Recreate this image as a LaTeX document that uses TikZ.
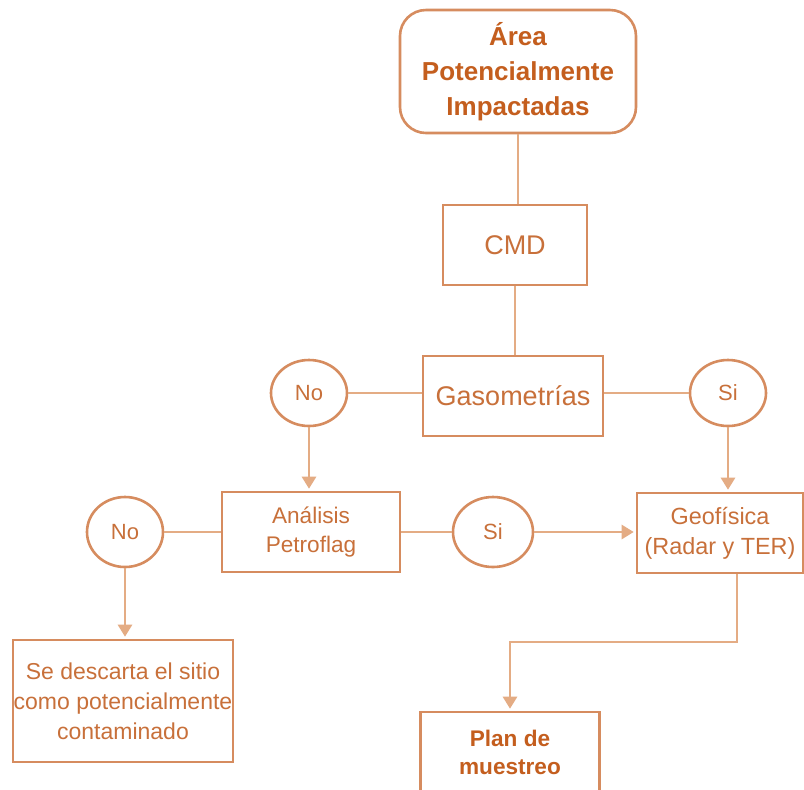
\documentclass[tikz,border=0pt]{standalone}
\usepackage{fontspec}
\setmainfont{Liberation Sans}
\usepackage{tikz}
\usetikzlibrary{arrows.meta}
\usetikzlibrary{positioning}
\usetikzlibrary{shapes.geometric}

\definecolor{boxline}{RGB}{214,140,95}
\definecolor{connline}{RGB}{228,172,132}
\definecolor{headtext}{RGB}{196,94,30}
\definecolor{bodytext}{RGB}{200,112,58}

\tikzset{
  box/.style={draw=boxline, line width=1.3pt, align=center, text=bodytext, inner sep=0pt},
  bubble/.style={draw=boxline, line width=1.3pt, ellipse, text=bodytext, font=\fontsize{11}{13}\selectfont,
    minimum width=38pt, minimum height=33pt, inner sep=0pt},
  link/.style={draw=connline, line width=1.3pt},
  arrow/.style={link, -{Triangle[width=7pt,length=6pt]}, shorten >=1pt}
}

\begin{document}
\begin{tikzpicture}[x=0.5pt, y=-0.5pt]
    \clip (0,0) rectangle (804,789);
    \fill[white] (0,0) rectangle (804,789);

    % boxes down the middle
    \node[box, rounded corners=13pt, minimum width=118pt, minimum height=61.5pt,
      text=headtext, font=\bfseries\fontsize{13}{17.5}\selectfont] (area) at (518,71.5)
      {Área\\Potencialmente\\Impactadas};
    \node[box, minimum width=72pt, minimum height=40pt, font=\fontsize{13.5}{16}\selectfont] (cmd) at (515,245) {CMD};
    \node[box, minimum width=90pt, minimum height=40pt, font=\fontsize{13.5}{16}\selectfont] (gaso) at (513,396) {Gasometrías};

    % yes / no bubbles
    \node[bubble, minimum width=38pt, minimum height=33pt] (no1) at (309,393) {No};
    \node[bubble, minimum width=38pt, minimum height=33pt] (si1) at (728,393) {Si};
    \node[bubble, minimum width=38pt, minimum height=35pt] (no2) at (125,532) {No};
    \node[bubble, minimum width=40pt, minimum height=35pt] (si2) at (493,532) {Si};

    % second row
    \node[box, minimum width=89pt, minimum height=40pt, font=\fontsize{11.3}{14.5}\selectfont] (ana) at (311,532)
      {Análisis\\Petroflag};
    \node[box, minimum width=83pt, minimum height=40pt, font=\fontsize{11.7}{15}\selectfont] (geo) at (720,533)
      {Geofísica\\(Radar y TER)};

    % results
    \node[box, minimum width=110pt, minimum height=61pt, font=\fontsize{11.5}{15}\selectfont] (desc) at (123,701)
      {Se descarta el sitio\\como potencialmente\\contaminado};
    \node[box, minimum width=89.5pt, minimum height=49pt, text=headtext,
      font=\bfseries\fontsize{11.3}{13.5}\selectfont] (plan) at (510,761)
      {\raisebox{9pt}{\shortstack{Plan de\\[3.5pt]muestreo}}};

    % connectors
    \draw[link] (area) -- (area |- cmd.north);
    \draw[link] (cmd) -- (cmd |- gaso.north);
    \draw[link] (no1) -- (no1 -| gaso.west);
    \draw[link] (si1) -- (si1 -| gaso.east);
    \draw[arrow] (no1.south) -- (no1.south |- ana.north);
    \draw[arrow] (si1.south) -- (si1.south |- geo.north);
    \draw[link] (ana) -- (no2);
    \draw[link] (ana) -- (si2);
    \draw[arrow] (si2.east) -- (si2.east -| geo.west);
    \draw[arrow] (no2.south) -- (no2.south |- desc.north);
    \coordinate (bend) at (737,642);
    \draw[arrow] (geo.south -| bend) -- (bend) -| (plan.north);
\end{tikzpicture}
\end{document}
